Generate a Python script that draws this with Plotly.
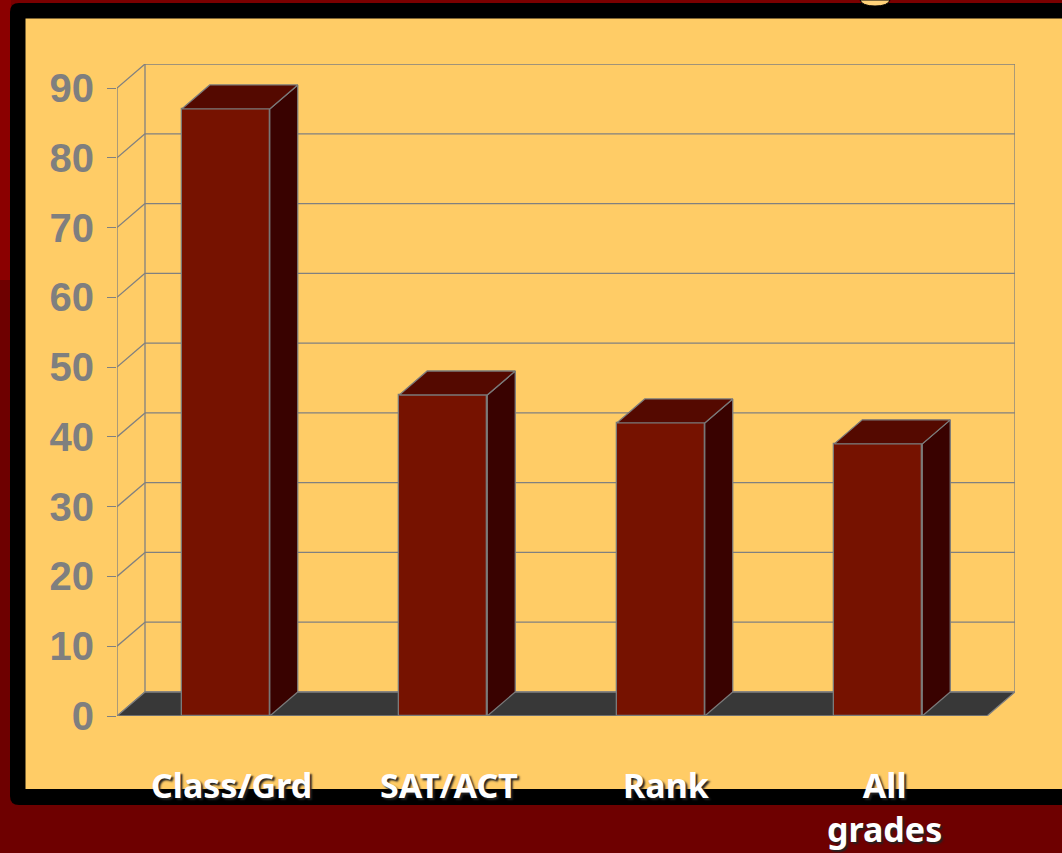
import plotly.graph_objects as go

# ---- data ----
categories = ["Class/Grd", "SAT/ACT", "Rank", "All<br>grades"]
values = [87, 46, 42, 39]
y_ticks = [0, 10, 20, 30, 40, 50, 60, 70, 80, 90]

# ---- geometry / style (pixel layout of the reference) ----
W, H = 1062, 853
L, R, T, B = 117, 47, 64, 137
CAT_PX = 217.5               # pixels per category on the front plane
Y_PX = 6.978                 # pixels per value unit
DX = 28 / CAT_PX             # depth offset in x data units
DY = 24 / Y_PX               # depth offset in y data units
BW = 88 / CAT_PX             # bar width
PW, PH = W - L - R, H - T - B

FRONT = "#761200"
TOP = "#540900"
SIDE = "#390200"
EDGE = "#7a7a7a"
FLOOR = "#383838"
ORANGE = "#ffcc66"
GRID = "#808080"

def px(xp):
    return (xp - L) / PW

def py(yp):
    return (H - B - yp) / PH

fig = go.Figure()

shapes = []
# slide background pieces (paper coordinates)
shapes.append(dict(type="rect", xref="paper", yref="paper", x0=px(0), x1=px(W), y0=py(0), y1=py(4),
                   fillcolor="#7a0000", line_width=0, layer="below"))
shapes.append(dict(type="rect", xref="paper", yref="paper", x0=px(0), x1=px(11), y0=py(0), y1=py(280),
                   fillcolor="#8b0000", line_width=0, layer="below"))
# black rounded frame
r = 9
x0, x1, y0, y1 = 10, W + 20, 3, 805
path = (f"M {px(x0 + r)},{py(y0)} L {px(x1)},{py(y0)} L {px(x1)},{py(y1)} L {px(x0 + r)},{py(y1)} "
        f"Q {px(x0)},{py(y1)} {px(x0)},{py(y1 - r)} L {px(x0)},{py(y0 + r)} "
        f"Q {px(x0)},{py(y0)} {px(x0 + r)},{py(y0)} Z")
shapes.append(dict(type="path", xref="paper", yref="paper", path=path,
                   fillcolor="#000000", line_width=0, layer="below"))
# orange panel
shapes.append(dict(type="rect", xref="paper", yref="paper", x0=px(25.5), x1=px(W + 20), y0=py(18.5), y1=py(789),
                   fillcolor=ORANGE, line_width=0, layer="below"))
# fragment of the cut-off title glyph
gp = (f"M {px(860)},{py(0)} Q {px(862)},{py(6)} {px(875)},{py(6)} Q {px(888)},{py(6)} {px(890)},{py(0)} Z")
shapes.append(dict(type="path", xref="paper", yref="paper", path=gp,
                   fillcolor="#ffd27a", line=dict(color="#000", width=1), layer="below"))

# 3D frame: back wall, left wall, floor (data coordinates)
xl, xr = -0.5, len(categories) - 0.5
for v in y_ticks:
    shapes.append(dict(type="line", x0=xl + DX, x1=xr + DX, y0=v + DY, y1=v + DY,
                       line=dict(color=GRID, width=1.3), layer="below"))
    shapes.append(dict(type="line", x0=xl, x1=xl + DX, y0=v, y1=v + DY,
                       line=dict(color=GRID, width=1.3), layer="below"))
shapes.append(dict(type="line", x0=xl + DX, x1=xl + DX, y0=DY, y1=y_ticks[-1] + DY,
                   line=dict(color=GRID, width=1.3), layer="below"))
shapes.append(dict(type="line", x0=xr + DX, x1=xr + DX, y0=DY, y1=y_ticks[-1] + DY,
                   line=dict(color=GRID, width=1.3), layer="below"))
shapes.append(dict(type="line", x0=xl, x1=xl, y0=0, y1=y_ticks[-1],
                   line=dict(color=GRID, width=1.3), layer="below"))
shapes.append(dict(type="path",
                   path=f"M {xl},0 L {xr},0 L {xr + DX},{DY} L {xl + DX},{DY} Z",
                   fillcolor=FLOOR, line=dict(color=GRID, width=1.3), layer="below"))

# front faces of the bars
fig.add_trace(go.Bar(x=list(range(len(values))), y=values, width=BW,
                     marker=dict(color=FRONT, line=dict(color=EDGE, width=1.3)),
                     hoverinfo="skip", showlegend=False))

# side and top faces
for i, v in enumerate(values):
    a, b = i - BW / 2, i + BW / 2
    fig.add_trace(go.Scatter(x=[b, b, b + DX, b + DX, b], y=[0, v, v + DY, DY, 0],
                             fill="toself", fillcolor=SIDE, mode="lines",
                             line=dict(color=EDGE, width=1.3), hoverinfo="skip", showlegend=False))
    fig.add_trace(go.Scatter(x=[a, b, b + DX, a + DX, a], y=[v, v, v + DY, v + DY, v],
                             fill="toself", fillcolor=TOP, mode="lines",
                             line=dict(color=EDGE, width=1.3), hoverinfo="skip", showlegend=False))

# category labels
annotations = []
for i, c in enumerate(categories):
    annotations.append(dict(x=i, y=py(760), xref="x", yref="paper", text=c, showarrow=False,
                            xanchor="center", yanchor="top", xshift=6,
                            font=dict(family="Noto Sans", size=34, color="white", weight="bold",
                                      shadow="2px 2px 2px #222")))

fig.update_layout(
    width=W, height=H,
    margin=dict(l=L, r=R, t=T, b=B),
    paper_bgcolor="#6e0000",
    plot_bgcolor="rgba(0,0,0,0)",
    shapes=shapes,
    annotations=annotations,
    bargap=0,
    xaxis=dict(range=[xl, xr + DX], visible=False, fixedrange=True),
    yaxis=dict(range=[0, y_ticks[-1] + DY], tickvals=y_ticks, ticks="outside", ticklen=9,
               tickcolor=GRID, tickwidth=1.3, showgrid=False, zeroline=False, showline=False,
               ticklabelstandoff=5,
               tickfont=dict(family="Liberation Sans", size=40, color="#7f7f7f", weight="bold"),
               fixedrange=True),
    showlegend=False,
)

fig.write_html("out.html", config={"displayModeBar": False},
               post_script="document.body.style.margin='0';document.body.style.overflow='hidden';")
